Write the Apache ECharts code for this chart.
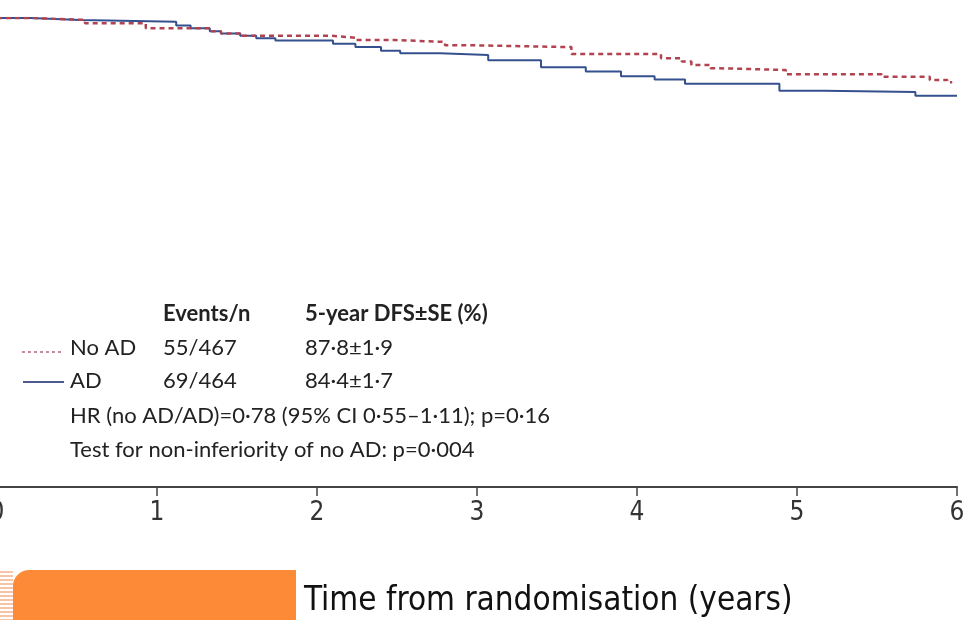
<!DOCTYPE html>
<html>
<head>
<meta charset="utf-8">
<script src="https://cdn.jsdelivr.net/npm/echarts@6/dist/echarts.min.js"></script>
<style>
  html, body { margin: 0; padding: 0; background: #fff; }
  #chart { width: 966px; height: 620px; }
</style>
</head>
<body>
<div id="chart"></div>
<script>
// 横轴刻度（年）
var xTicks = [0, 1, 2, 3, 4, 5, 6];

// AD 组 (实线) 的阶梯点
var adTimes = [0, 0.21, 0.52, 1.12, 1.21, 1.33, 1.40, 1.52, 1.62, 1.74, 2.10, 2.24, 2.40, 2.52, 2.77, 3.07, 3.40, 3.68, 3.90, 4.11, 4.30, 4.89, 5.17, 5.74, 6.00];
var adSurv = [100, 99.6, 99.2, 98.4, 97.8, 97.2, 96.7, 96.2, 95.7, 95.2, 94.5, 93.8, 93.0, 92.5, 92.1, 91.0, 89.5, 88.6, 87.6, 86.9, 86.0, 84.5, 84.2, 83.4, 83.4];

// No AD 组 (虚线)
var noAdTimes = [0, 0.21, 0.55, 0.93, 1.33, 1.40, 1.52, 2.09, 2.24, 2.49, 2.80, 2.93, 3.59, 4.15, 4.28, 4.34, 4.46, 4.50, 4.93, 5.53, 5.83, 5.94, 5.97];
var noAdSurv = [100, 99.6, 98.9, 97.8, 97.2, 96.7, 96.2, 95.8, 95.3, 94.9, 94.2, 93.8, 92.3, 91.4, 90.7, 90.0, 89.3, 88.9, 88.0, 87.5, 86.8, 86.3, 86.3];

// 图例表格
var tableHeader = ['Events/n', '5-year DFS±SE (%)'];
var groupNames = ['No AD', 'AD'];
var groupEvents = ['55/467', '69/464'];
var groupDfs = ['87·8±1·9', '84·4±1·7'];
var noteLines = [
    'HR (no AD/AD)=0·78 (95% CI 0·55–1·11); p=0·16',
    'Test for non-inferiority of no AD: p=0·004'
];
var xTitle = 'Time from randomisation (years)';

var RED = '#b0434f';
var BLUE = '#34508f';
var FONT = 'Lato, "Open Sans", sans-serif';
var NARROW = '"Liberation Sans Narrow", "DejaVu Sans Condensed", sans-serif';

function pairs(ts, vs) {
    return ts.map(function (t, i) { return [t, vs[i]]; });
}

var chart = echarts.init(document.getElementById('chart'), null, { renderer: 'canvas' });

var graphics = [];
var textStyle = function (txt, x, y, bold) {
    return {
        type: 'text', left: x, top: y - 13,
        style: { text: txt, fill: '#222', font: (bold ? '700 ' : '') + '22px ' + FONT }
    };
};
graphics.push(textStyle(tableHeader[0], 163, 316, true));
graphics.push(textStyle(tableHeader[1], 305, 316, true));
var rowY = [350, 383];
groupNames.forEach(function (g, i) {
    graphics.push(textStyle(g, 70, rowY[i]));
    graphics.push(textStyle(groupEvents[i], 163, rowY[i]));
    graphics.push(textStyle(groupDfs[i], 305, rowY[i]));
});
graphics.push(textStyle(noteLines[0], 70, 418));
graphics.push(textStyle(noteLines[1], 70, 452));

// 图例线段
graphics.push({
    type: 'line', shape: { x1: 22, y1: 352, x2: 63, y2: 352 },
    style: { stroke: '#c98a9c', lineWidth: 2, lineDash: [3, 3] }
});
graphics.push({
    type: 'line', shape: { x1: 23, y1: 382, x2: 64, y2: 382 },
    style: { stroke: '#4b5b8c', lineWidth: 2 }
});

// 底部橙色块和条纹
for (var k = 0; k < 13; k++) {
    graphics.push({
        type: 'rect', shape: { x: 0, y: 571 + k * 4, width: 13, height: 2 },
        style: { fill: '#f9c3a6' }
    });
}
graphics.push({
    type: 'rect', shape: { x: 13, y: 570, width: 283, height: 60, r: [16, 0, 0, 0] },
    style: { fill: '#fd8a37' }
});
graphics.push({
    type: 'text', left: 304, top: 585,
    style: { text: xTitle, fill: '#111', font: '33px ' + NARROW }
});

var option = {
    animation: false,
    backgroundColor: '#fff',
    grid: { left: -3, right: 9, top: 18, bottom: 133, containLabel: false, outerBoundsMode: 'none' },
    xAxis: {
        type: 'value', min: 0, max: 6, interval: 1,
        axisLine: { show: true, lineStyle: { color: '#444', width: 2 } },
        axisTick: { show: true, length: 9, lineStyle: { color: '#444', width: 1.5 } },
        axisLabel: {
            show: true, margin: 13, color: '#333', fontSize: 26, fontFamily: NARROW,
            formatter: function (v) { return xTicks.indexOf(v) >= 0 ? String(v) : ''; }
        },
        splitLine: { show: false }
    },
    yAxis: {
        type: 'value', min: 0, max: 100,
        axisLine: { show: false }, axisTick: { show: false },
        axisLabel: { show: false }, splitLine: { show: false }
    },
    series: [
        {
            name: 'No AD', type: 'line', step: 'end', symbol: 'none',
            data: pairs(noAdTimes, noAdSurv), z: 3,
            lineStyle: { color: RED, width: 2.5, type: [5, 4] }
        },
        {
            name: 'AD', type: 'line', step: 'end', symbol: 'none',
            data: pairs(adTimes, adSurv), z: 2,
            lineStyle: { color: BLUE, width: 2 }
        }
    ],
    graphic: graphics
};

chart.setOption(option);
</script>
</body>
</html>
